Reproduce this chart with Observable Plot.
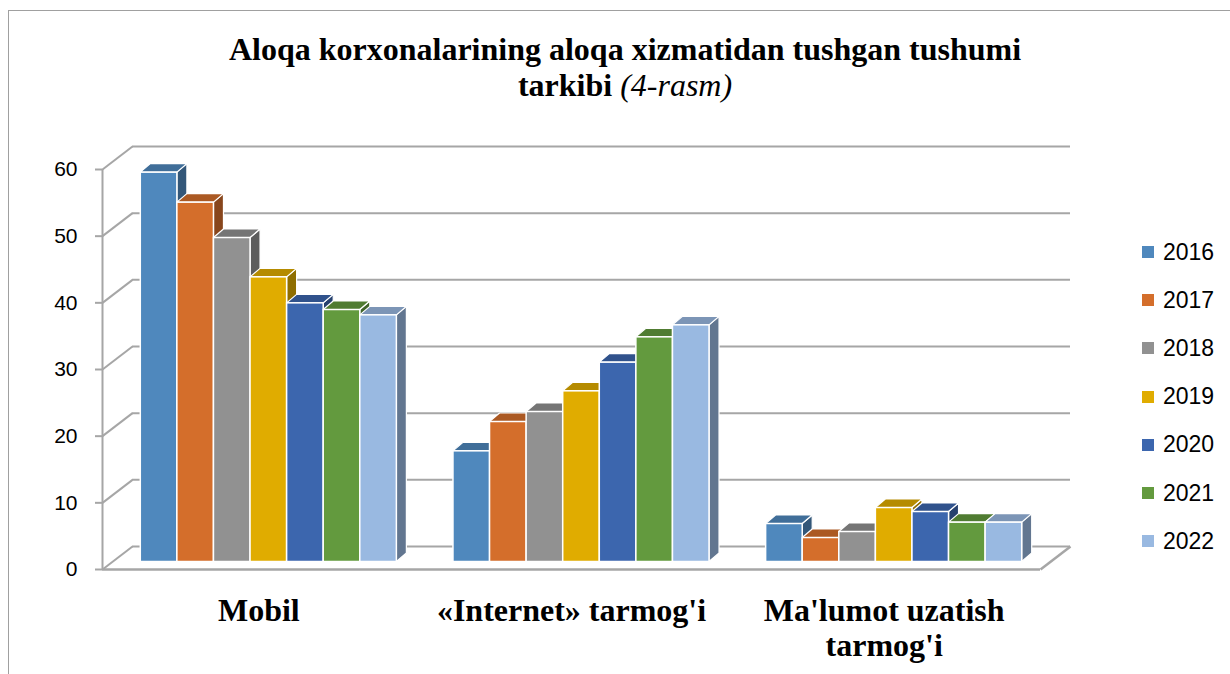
<!DOCTYPE html>
<html>
<head>
<meta charset="utf-8">
<script src="https://cdn.jsdelivr.net/npm/d3@7"></script>
<script src="https://cdn.jsdelivr.net/npm/@observablehq/plot@0.6"></script>
<style>
  html, body { margin: 0; padding: 0; background: #fff; }
  #page { position: relative; width: 1230px; height: 674px; overflow: hidden; }
  #frame { position: absolute; left: 8px; top: 10px; width: 1240px; height: 700px;
           border-left: 1.5px solid #a0a0a0; border-top: 1.5px solid #a0a0a0; }
  #title { position: absolute; left: 20px; top: 31px; width: 1210px; text-align: center;
           font-family: "Liberation Serif", "Times New Roman", serif; font-weight: bold;
           font-size: 32px; line-height: 36px; color: #000; }
  #title i { font-weight: normal; }
  #chart { position: absolute; left: 0; top: 110px; }
  #legend { position: absolute; left: 1142px; top: 228px; font-family: "Liberation Sans", Arial, sans-serif;
            font-size: 23px; color: #000; }
  .lg { height: 48.2px; display: flex; align-items: center; }
  .sw { width: 12px; height: 12px; margin-right: 9px; }
</style>
</head>
<body>
<div id="page">
  <div id="frame"></div>
  <div id="title">Aloqa korxonalarining aloqa xizmatidan tushgan tushumi<br>tarkibi <i>(4-rasm)</i></div>
  <div id="chart"></div>
  <div id="legend"></div>
</div>
<script>
// ---- data ----
const categories = ["Mobil", "«Internet» tarmog'i", "Ma'lumot uzatish\ntarmog'i"];
const years = ["2016", "2017", "2018", "2019", "2020", "2021", "2022"];
const mobil    = [58.4, 53.9, 48.6, 42.7, 38.8, 37.8, 37.0];
const internet = [16.6, 21.0, 22.5, 25.6, 29.9, 33.7, 35.5];
const malumot  = [5.7, 3.6, 4.5, 8.1, 7.5, 5.9, 5.9];
const yTicks = [0, 10, 20, 30, 40, 50, 60];
const colors = ["#4f88bd", "#d46e2b", "#919191", "#e0ac00", "#3c66ae", "#639a3e", "#99b9e1"];

// ---- layout ----
const W = 1230, H = 564;
const mL = 102, mR = 190, mT = 59, mB = 105;
const xDomain = [0, categories.length];
const yDomain = [0, 60];
const kx = (xDomain[1] - xDomain[0]) / (W - mL - mR); // data units per px
const ky = (yDomain[1] - yDomain[0]) / (H - mT - mB);
const WALL_X = 30, WALL_Y = 23;     // depth of the floor / walls (px)
const FRONT_X = 10, FRONT_Y = 7.5;  // bar front plane offset (px)
const BAR_X = 10, BAR_Y = 8.5;      // bar depth (px)
const TICK = 7;                     // tick length (px)
const groupFrac = 0.819;
const bw = groupFrac / years.length;

const series = [mobil, internet, malumot];
const rows = [];
categories.forEach((c, i) => {
  years.forEach((yr, j) => {
    const xl = i + 0.5 - groupFrac / 2 + j * bw;
    rows.push({id: i + "-" + j, cat: c, year: yr, v: series[i][j], xl, xr: xl + bw,
               color: colors[j],
               top: d3.color(colors[j]).darker(0.6).formatHex(),
               side: d3.color(colors[j]).darker(1.25).formatHex()});
  });
});
const bx = BAR_X * kx, by = BAR_Y * ky;
const topPts = rows.flatMap(r => [
  {id: r.id, color: r.top, y: r.v, x1: r.xl, x2: r.xr},
  {id: r.id, color: r.top, y: r.v + by, x1: r.xl + bx, x2: r.xr + bx}
]);
const sidePts = rows.flatMap(r => [
  {id: r.id, color: r.side, x: r.xr, y1: 0, y2: r.v},
  {id: r.id, color: r.side, x: r.xr + bx, y1: by, y2: r.v + by}
]);
const wx = WALL_X * kx, wy = WALL_Y * ky;
const grid = "#a6a6a6";

const chart = Plot.plot({
  width: W, height: H,
  marginLeft: mL, marginRight: mR, marginTop: mT, marginBottom: mB,
  x: {type: "linear", domain: xDomain, axis: null},
  y: {domain: yDomain, axis: null},
  color: {type: "identity"},
  style: {background: "transparent", overflow: "visible", fontFamily: "Liberation Sans, Arial, sans-serif"},
  marks: [
    // back wall gridlines
    Plot.ruleY(yTicks, {y: d => d, x1: () => xDomain[0], x2: () => xDomain[1], dx: WALL_X, dy: -WALL_Y, stroke: grid, strokeWidth: 2}),
    // left wall diagonals
    Plot.link(yTicks, {x1: () => xDomain[0], x2: () => xDomain[0] + wx, y1: d => d, y2: d => d + wy, stroke: grid, strokeWidth: 2}),
    // floor front edge and right edge
    Plot.ruleY([yDomain[0]], {y: d => d, x1: () => xDomain[0], x2: () => xDomain[1], stroke: grid, strokeWidth: 2.5}),
    Plot.link([yDomain[0]], {x1: () => xDomain[1], x2: () => xDomain[1] + wx, y1: d => d, y2: d => d + wy, stroke: grid, strokeWidth: 2.5}),
    // front axis line and ticks
    Plot.ruleX([xDomain[0]], {x: d => d, y1: () => yDomain[0], y2: () => yDomain[1], stroke: grid, strokeWidth: 2}),
    Plot.ruleY(yTicks, {y: d => d, x1: () => xDomain[0] - TICK * kx, x2: () => xDomain[0], stroke: grid, strokeWidth: 2}),
    Plot.text(yTicks, {y: d => d, x: () => xDomain[0], text: d => String(d), dx: -25, textAnchor: "end",
      fontSize: 21, fill: "#000", fontFamily: "Liberation Sans, Arial, sans-serif"}),
    // bars: sides, tops, fronts
    Plot.areaY(sidePts, {x: "x", y1: "y1", y2: "y2", z: "id", fill: "color", stroke: "white", strokeWidth: 1.2, dx: FRONT_X, dy: -FRONT_Y}),
    Plot.areaX(topPts, {y: "y", x1: "x1", x2: "x2", z: "id", fill: "color", stroke: "white", strokeWidth: 1.2, dx: FRONT_X, dy: -FRONT_Y}),
    Plot.rect(rows, {x1: "xl", x2: "xr", y1: () => 0, y2: "v", fill: "color", stroke: "white", strokeWidth: 1.5, dx: FRONT_X, dy: -FRONT_Y}),
    // category labels
    Plot.text(categories, {x: (d, i) => i + 0.5, y: () => yDomain[0], text: d => d, dy: 26, lineAnchor: "top",
      lineHeight: 1.1, fontSize: 32, fontWeight: "bold", fontFamily: "Liberation Serif, Times New Roman, serif", fill: "#000"})
  ]
});
document.getElementById("chart").appendChild(chart);

// legend
const lg = document.getElementById("legend");
years.forEach((yr, j) => {
  const row = document.createElement("div");
  row.className = "lg";
  row.innerHTML = `<span class="sw" style="background:${colors[j]}"></span><span>${yr}</span>`;
  lg.appendChild(row);
});
</script>
</body>
</html>
